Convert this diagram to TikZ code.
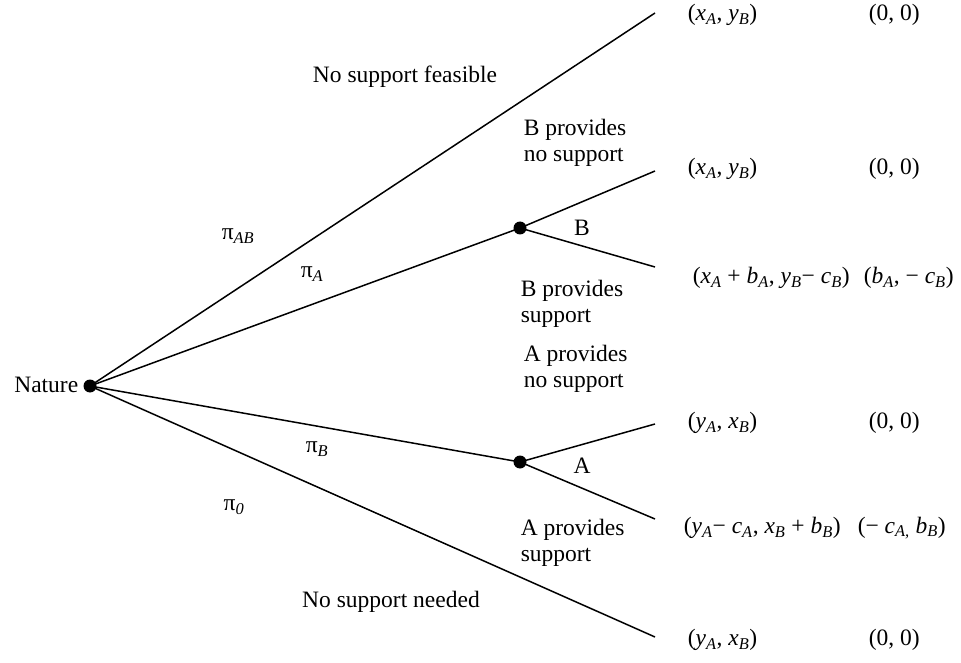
\documentclass[tikz,border=0pt]{standalone}
\usepackage{fontspec}
\setmainfont{Liberation Serif}
\newcommand{\vs}[2]{\textit{#1}\textsubscript{\textit{#2}}}
\begin{document}
\begin{tikzpicture}[x=1pt, y=-1pt, line width=1.5pt]
        \tikzstyle{chance}=[circle, fill, minimum size=13pt, inner sep=0pt]
        \tikzstyle{txt}=[font=\fontsize{23.5}{26}\selectfont, inner sep=0pt]
        \tikzstyle{pay}=[txt, anchor=west]
        \useasboundingbox (0,0) rectangle (961,663);

        \node[chance] (n) at (90,386) {};
        \node[txt, anchor=east] (nl) at (79,385) {Nature};
        \node[chance] (b) at (520,228) {};
        \node[chance] (a) at (520,462) {};

        \coordinate (t1) at (655,13);
        \coordinate (t2) at (655,171);
        \coordinate (t3) at (655,267);
        \coordinate (t4) at (655,424);
        \coordinate (t5) at (655,519);
        \coordinate (t6) at (655,637);

        \draw (n.center) -- (t1);
        \draw (n.center) -- (b.center);
        \draw (n.center) -- (a.center);
        \draw (n.center) -- (t6);
        \draw (b.center) -- (t2);
        \draw (b.center) -- (t3);
        \draw (a.center) -- (t4);
        \draw (a.center) -- (t5);

        % branch labels
        \node[txt] (fea) at (405,77) {No support feasible};
        \node[txt] (nee) at (391,602) {No support needed};
        \node[txt] (pab) at (238,236) {π\textsubscript{\textit{AB}}};
        \node[txt] (pa) at (312,274) {π\textsubscript{\textit{A}}};
        \node[txt] (pb) at (317,449) {π\textsubscript{\textit{B}}};
        \node[txt] (p0) at (234,507) {π\textsubscript{\textit{0}}};
        \node[txt] (bl) at (582,228) {B};
        \node[txt] (al) at (582,466) {A};
        \node[txt, anchor=west, align=left] (bn) at (523,143) {B provides\\no support};
        \node[txt, anchor=west, align=left] (bs) at (520,304) {B provides\\support};
        \node[txt, anchor=west, align=left] (an) at (523,369) {A provides\\no support};
        \node[txt, anchor=west, align=left] (as) at (520,543) {A provides\\support};

        % payoffs
        \node[pay] (o1) at (687,15) {(\vs{x}{A}, \vs{y}{B})};
        \node[pay] (o2) at (687,169) {(\vs{x}{A}, \vs{y}{B})};
        \node[pay] (o3) at (692,278) {(\vs{x}{A} + \vs{b}{A}, \vs{y}{B}− \vs{c}{B})};
        \node[pay] (o4) at (687,423) {(\vs{y}{A}, \vs{x}{B})};
        \node[pay] (o5) at (683,528) {(\vs{y}{A}− \vs{c}{A}, \vs{x}{B} + \vs{b}{B})};
        \node[pay] (o6) at (687,640) {(\vs{y}{A}, \vs{x}{B})};
        \node[pay] (u1) at (868,15) {(0, 0)};
        \node[pay] (u2) at (868,169) {(0, 0)};
        \node[pay] (u3) at (863,278) {(\vs{b}{A}, − \vs{c}{B})};
        \node[pay] (u4) at (868,423) {(0, 0)};
        \node[pay] (u5) at (857,528) {(− \vs{c}{A,} \vs{b}{B})};
        \node[pay] (u6) at (868,640) {(0, 0)};
    \end{tikzpicture}
\end{document}
